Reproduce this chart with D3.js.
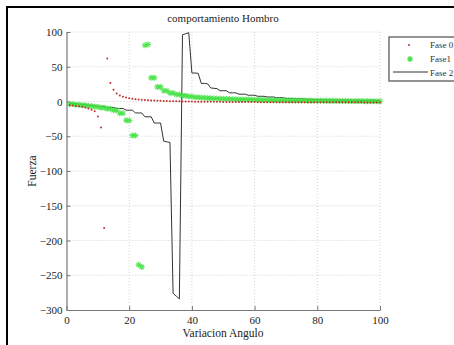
<!DOCTYPE html>
<html>
<head>
<meta charset="utf-8">
<script src="https://cdn.jsdelivr.net/npm/d3@7"></script>
<style>
  body { margin: 0; background: #fff; }
  svg { display: block; font-family: "Liberation Serif", "DejaVu Serif", serif; }
</style>
</head>
<body>
<svg id="chart" width="454" height="345"></svg>
<script>
// angle values (x axis)
var angulo = [1,2,3,4,5,6,7,8,9,10,11,12,13,14,15,16,17,18,19,20,
  21,22,23,24,25,26,27,28,29,30,31,32,33,34,35,36,37,38,39,40,
  41,42,43,44,45,46,47,48,49,50,51,52,53,54,55,56,57,58,59,60,
  61,62,63,64,65,66,67,68,69,70,71,72,73,74,75,76,77,78,79,80,
  81,82,83,84,85,86,87,88,89,90,91,92,93,94,95,96,97,98,99,100];

// Fase 0 (red dots)
var fase0 = [-5.5,-5.9,-6.3,-6.9,-7.6,-8.6,-9.9,-11.8,-14.2,-21.5,
  -37.5,-182,62,26.5,17,11.5,8.7,6.9,5.6,4.7,
  3.9,3.3,2.8,2.4,2.1,1.8,1.5,1.3,1.1,0.9,
  0.8,0.6,0.5,0.4,0.3,0.2,0.1,0.0,-0.1,-0.1,
  -0.2,-0.2,-0.3,-0.3,-0.4,-0.4,-0.5,-0.5,-0.5,-0.6,
  -0.6,-0.6,-0.7,-0.7,-0.7,-0.7,-0.8,-0.8,-0.8,-0.8,
  -0.9,-0.9,-0.9,-0.9,-0.9,-1,-1,-1,-1,-1,
  -1,-1,-1,-1,-1.1,-1.1,-1.1,-1.1,-1.1,-1.1,
  -1.1,-1.1,-1.1,-1.2,-1.2,-1.2,-1.2,-1.2,-1.2,-1.2,
  -1.2,-1.2,-1.2,-1.2,-1.3,-1.3,-1.3,-1.3,-1.3,-1.3];

// Fase1 (green asterisks)
var fase1 = [-3.5,-3.5,-4.5,-4.5,-5.5,-5.5,-6.5,-6.5,-7.5,-7.5,
  -9,-9,-10.5,-10.5,-12.5,-12.5,-17,-17,-27,-27.5,
  -49,-49,-235,-238,81,82,34,34,21,21,
  15.5,15.5,12.2,12.2,10,10,8.4,8.4,7.3,7.3,
  6.2,6.2,5.4,5.4,4.8,4.8,4.3,4.3,3.9,3.9,
  3.5,3.5,3.2,3.2,3.0,3.0,2.8,2.8,2.6,2.6,
  2.4,2.4,2.2,2.2,2.0,2.0,1.9,1.9,1.7,1.7,
  1.6,1.6,1.5,1.5,1.4,1.4,1.2,1.2,1.1,1.1,
  1.0,1.0,0.9,0.9,0.9,0.9,0.8,0.8,0.7,0.7,
  0.6,0.6,0.6,0.6,0.5,0.5,0.5,0.5,0.4,0.4];

// Fase 2 (black line)
var fase2 = [-3,-3,-3,-4,-4,-4,-5.5,-5.5,-5.5,-7,
  -7,-7,-8.5,-8.5,-8.5,-10,-10,-10,-12.5,-12.5,
  -12.5,-16.5,-16.5,-16.5,-22,-22,-22,-31,-31,-31,
  -57,-58,-59,-276,-280,-284,96,97.5,99,41,
  41,40.5,26,26,25.5,19.5,19,18.5,15.5,15.5,
  15.5,12.5,12.5,12.5,10.5,10.5,10.5,9,9,9,
  7.5,7.5,7.5,6.5,6.5,6.5,5.5,5.5,5.5,4.5,
  4.5,4.5,3.9,3.9,3.9,3.3,3.3,3.3,2.9,2.9,
  2.9,2.5,2.5,2.5,2.2,2.2,2.2,2.0,2.0,2.0,
  1.8,1.8,1.8,1.6,1.6,1.6,1.5,1.5,1.5,1.4];

var xTicks = [0, 20, 40, 60, 80, 100];
var yTicks = [100, 50, 0, -50, -100, -150, -200, -250, -300];
var seriesNames = ["Fase 0", "Fase1", "Fase 2"];

var svg = d3.select("#chart");
var pLeft = 66.5, pRight = 380, pTop = 32, pBottom = 310;

var x = d3.scaleLinear().domain([0, 100]).range([pLeft, pRight]);
var y = d3.scaleLinear().domain([-300, 100]).range([pBottom, pTop]);

// outer frame (top + left only)
svg.append("path")
  .attr("d", "M7,345 L7,7 L454,7")
  .attr("fill", "none")
  .attr("stroke", "#000")
  .attr("stroke-width", 2);

// grid
var grid = svg.append("g");
grid.selectAll(".gx").data(xTicks.slice(1)).enter().append("line")
  .attr("x1", function(d) { return x(d); }).attr("x2", function(d) { return x(d); })
  .attr("y1", pTop).attr("y2", pBottom)
  .attr("stroke", "#c8c8c8").attr("stroke-width", 0.8).attr("stroke-dasharray", "1,2");
grid.selectAll(".gy").data(yTicks.slice(0, -1)).enter().append("line")
  .attr("y1", function(d) { return y(d); }).attr("y2", function(d) { return y(d); })
  .attr("x1", pLeft).attr("x2", pRight)
  .attr("stroke", "#c8c8c8").attr("stroke-width", 0.8).attr("stroke-dasharray", "1,2");

// axes
var xAxis = svg.append("g")
  .attr("transform", "translate(0," + pBottom + ")")
  .call(d3.axisBottom(x).tickValues(xTicks).tickSizeInner(-4).tickSizeOuter(0).tickPadding(6));
var yAxis = svg.append("g")
  .attr("transform", "translate(" + pLeft + ",0)")
  .call(d3.axisLeft(y).tickValues(yTicks).tickSizeInner(-4).tickSizeOuter(0).tickPadding(4));
[xAxis, yAxis].forEach(function(a) {
  a.select(".domain").attr("stroke", "#777").attr("stroke-width", 1.2);
  a.selectAll(".tick line").attr("stroke", "#777");
  a.selectAll("text").attr("fill", "#222").attr("font-size", 11)
    .attr("font-family", "Liberation Serif, serif");
});

// Fase 2 line
svg.append("path")
  .datum(angulo)
  .attr("fill", "none")
  .attr("stroke", "#333")
  .attr("stroke-width", 1)
  .attr("d", d3.line()
    .x(function(d) { return x(d); })
    .y(function(d, i) { return y(fase2[i]); }));

// asterisk shape
function asterisk(cx, cy, r) {
  var d = r * 0.72;
  return "M" + (cx - r) + "," + cy + "L" + (cx + r) + "," + cy +
    "M" + cx + "," + (cy - r) + "L" + cx + "," + (cy + r) +
    "M" + (cx - d) + "," + (cy - d) + "L" + (cx + d) + "," + (cy + d) +
    "M" + (cx - d) + "," + (cy + d) + "L" + (cx + d) + "," + (cy - d);
}

// Fase1 asterisks
svg.append("g").selectAll("path")
  .data(angulo)
  .enter().append("path")
  .attr("d", function(d, i) { return asterisk(x(d), y(fase1[i]), 3); })
  .attr("stroke", "#3ee03e")
  .attr("stroke-width", 1.1)
  .attr("stroke-opacity", 0.85)
  .attr("fill", "none");

// Fase 0 dots
svg.append("g").selectAll("circle")
  .data(angulo)
  .enter().append("circle")
  .attr("cx", function(d) { return x(d); })
  .attr("cy", function(d, i) { return y(fase0[i]); })
  .attr("r", 1)
  .attr("fill", "#c0302a");

// titles
svg.append("text").attr("x", 223).attr("y", 22).attr("text-anchor", "middle")
  .attr("font-size", 11).attr("fill", "#222").text("comportamiento Hombro");
svg.append("text").attr("x", 223).attr("y", 337).attr("text-anchor", "middle")
  .attr("font-size", 11.5).attr("fill", "#222").text("Variacion Angulo");
svg.append("text").attr("transform", "translate(36,171) rotate(-90)")
  .attr("text-anchor", "middle").attr("font-size", 11.5).attr("fill", "#222").text("Fuerza");

// legend
var lg = svg.append("g");
lg.append("rect").attr("x", 389).attr("y", 37).attr("width", 80).attr("height", 44)
  .attr("fill", "#fff").attr("stroke", "#666").attr("stroke-width", 1.4);
lg.selectAll("text").data(seriesNames).enter().append("text")
  .attr("x", 430).attr("y", function(d, i) { return 48 + i * 14; })
  .attr("font-size", 9).attr("fill", "#333").text(function(d) { return d; });
lg.append("circle").attr("cx", 409).attr("cy", 45).attr("r", 1).attr("fill", "#c0302a");
lg.append("path").attr("d", asterisk(410, 59, 3)).attr("stroke", "#3ee03e")
  .attr("stroke-width", 1.1).attr("fill", "none");
lg.append("line").attr("x1", 393).attr("x2", 428).attr("y1", 72).attr("y2", 72)
  .attr("stroke", "#333").attr("stroke-width", 1);
</script>
</body>
</html>
